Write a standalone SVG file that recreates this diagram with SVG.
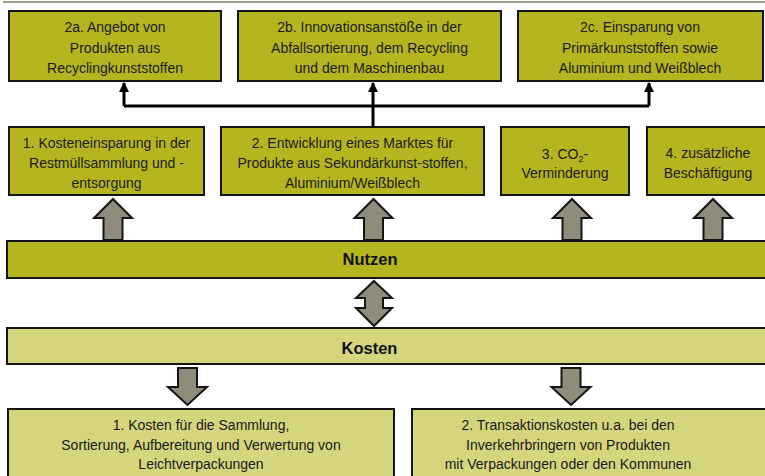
<svg xmlns="http://www.w3.org/2000/svg" width="765" height="476" viewBox="0 0 765 476">
<defs>
<style>
.box{fill:#b5b61f;stroke:#141414;stroke-width:2}
.lbox{fill:#d4d57d;stroke:#141414;stroke-width:2}
.t{font-family:"Liberation Sans",Arial,sans-serif;font-size:14px;fill:#1a1a1a;text-anchor:middle}
.h{font-family:"Liberation Sans",Arial,sans-serif;font-size:16.5px;font-weight:bold;fill:#111;text-anchor:middle}
.big{fill:#8f8c7c;stroke:#141414;stroke-width:2;stroke-linejoin:miter}
.con{fill:none;stroke:#000;stroke-width:3}
</style>
<marker id="ah" viewBox="0 0 10 10" refX="9" refY="5" markerWidth="3.4" markerHeight="3.4" markerUnits="strokeWidth" orient="auto">
<path d="M0,0 L10,5 L0,10 Z" fill="#000"/>
</marker>
</defs>
<rect width="765" height="476" fill="#fff"/>
<line x1="3" y1="2" x2="765" y2="2" stroke="#a19b8a" stroke-width="2"/>

<g id="n2a"><rect class="box" x="9" y="11" width="212" height="70"/>
<text class="t" x="115" y="32">2a. Angebot von</text>
<text class="t" x="115" y="52.5">Produkten aus</text>
<text class="t" x="115" y="73">Recyclingkunststoffen</text></g>

<g id="n2b"><rect class="box" x="238" y="11" width="263" height="70"/>
<text class="t" x="369.5" y="32">2b. Innovationsanstöße in der</text>
<text class="t" x="369.5" y="52.5">Abfallsortierung, dem Recycling</text>
<text class="t" x="369.5" y="73">und dem Maschinenbau</text></g>

<g id="n2c"><rect class="box" x="518" y="11" width="245" height="70"/>
<text class="t" x="640" y="32">2c. Einsparung von</text>
<text class="t" x="640" y="52.5">Primärkunststoffen sowie</text>
<text class="t" x="640" y="73">Aluminium und Weißblech</text></g>

<g id="n1"><rect class="box" x="9" y="127" width="195" height="68"/>
<text class="t" x="106.5" y="148">1. Kosteneinsparung in der</text>
<text class="t" x="106.5" y="168">Restmüllsammlung und -</text>
<text class="t" x="106.5" y="188">entsorgung</text></g>

<g id="n2"><rect class="box" x="221" y="127" width="263" height="68"/>
<text class="t" x="352.5" y="148">2. Entwicklung eines Marktes für</text>
<text class="t" x="352.5" y="168">Produkte aus Sekundärkunst-stoffen,</text>
<text class="t" x="352.5" y="188">Aluminium/Weißblech</text></g>

<g id="n3"><rect class="box" x="501" y="127" width="128" height="68"/>
<text class="t" x="565" y="159">3. CO<tspan font-size="9" dy="3">2</tspan><tspan dy="-3">-</tspan></text>
<text class="t" x="565" y="178">Verminderung</text></g>

<g id="n4"><rect class="box" x="647" y="127" width="125" height="68"/>
<text class="t" x="708" y="158">4. zusätzliche</text>
<text class="t" x="708" y="178">Beschäftigung</text></g>

<g id="nutzen"><rect class="box" x="7" y="241" width="770" height="37"/>
<text class="h" x="370" y="265">Nutzen</text></g>

<g id="kosten"><rect class="lbox" x="7" y="328" width="770" height="36"/>
<text class="h" x="369.5" y="354">Kosten</text></g>

<g id="k1"><rect class="lbox" x="8" y="409" width="386" height="75"/>
<text class="t" x="201" y="430">1. Kosten für die Sammlung,</text>
<text class="t" x="201" y="450">Sortierung, Aufbereitung und Verwertung von</text>
<text class="t" x="201" y="469">Leichtverpackungen</text></g>

<g id="k2"><rect class="lbox" x="412" y="409" width="370" height="75"/>
<text class="t" x="568" y="430">2. Transaktionskosten u.a. bei den</text>
<text class="t" x="568" y="450">Inverkehrbringern von Produkten</text>
<text class="t" x="568" y="469">mit Verpackungen oder den Kommunen</text></g>

<g id="connectors">
<path class="con" d="M124,106 H649"/>
<path class="con" d="M124,106 V83" marker-end="url(#ah)"/>
<path class="con" d="M373,127 V83" marker-end="url(#ah)"/>
<path class="con" d="M649,106 V83" marker-end="url(#ah)"/>
<path class="big" d="M113,199 L132,218 L122.5,218 L122.5,240 L103.5,240 L103.5,218 L94,218 Z"/>
<path class="big" d="M373.5,199 L392.5,218 L383,218 L383,240 L364,240 L364,218 L354.5,218 Z"/>
<path class="big" d="M572,199 L591,218 L581.5,218 L581.5,240 L562.5,240 L562.5,218 L553,218 Z"/>
<path class="big" d="M713,199 L732,218 L722.5,218 L722.5,240 L703.5,240 L703.5,218 L694,218 Z"/>
<path class="big" d="M374,281 L392,298 L383,298 L383,308 L392,308 L374,326 L356,308 L365,308 L365,298 L356,298 Z"/>
<path class="big" d="M178,368 L197,368 L197,387 L207,387 L187.5,405 L168,387 L178,387 Z"/>
<path class="big" d="M561.5,368 L580.5,368 L580.5,387 L590.5,387 L571,405 L551.5,387 L561.5,387 Z"/>
</g>
</svg>
